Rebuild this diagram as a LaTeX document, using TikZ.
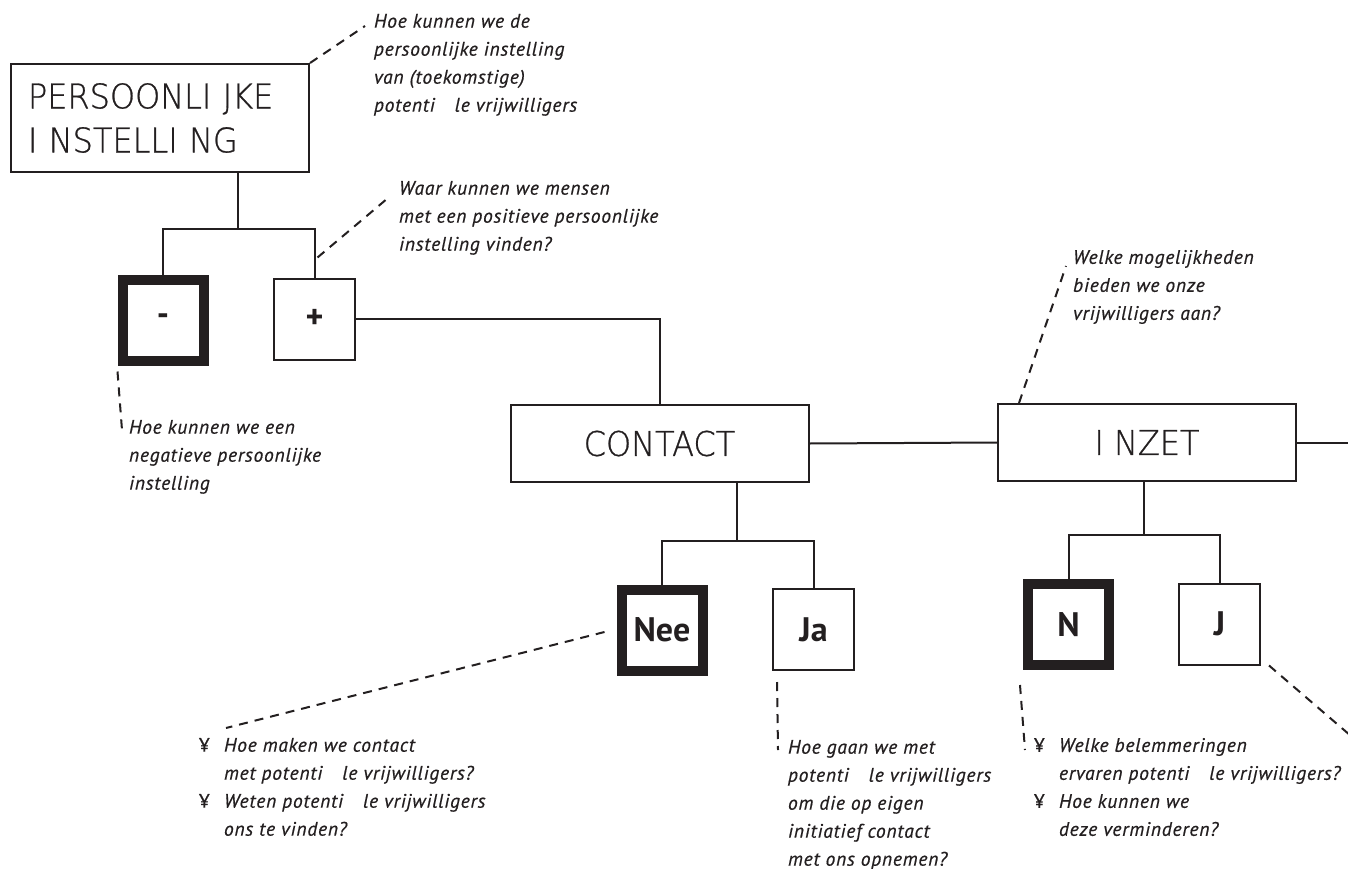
\documentclass[tikz,border=0pt]{standalone}
\usepackage{fontspec}
\setmainfont{PT Sans}
\newfontfamily\notefont[LetterSpace=4,FakeBold=0.6]{PT Sans}
\newfontfamily\titlefont[FakeStretch=0.94,FakeBold=0.8]{DejaVu Sans ExtraLight}
\usetikzlibrary{calc}
\definecolor{ink}{HTML}{231F20}
\newcommand{\gapje}{\hspace*{20pt}}
\newcommand{\bul}{\makebox[25pt][l]{\upshape ¥}}
\newcommand{\ind}{\hspace*{25pt}}

\begin{document}
\begin{tikzpicture}[x=1pt, y=-1pt, line width=2pt, color=ink]
    \tikzstyle{topic}=[rectangle, draw, line width=2pt, inner sep=0pt,
                       minimum width=298pt, minimum height=77pt,
                       font=\titlefont\fontsize{34}{44}\selectfont]
    \tikzstyle{answer}=[rectangle, draw, line width=2pt, inner sep=0pt,
                        minimum size=81pt,
                        font=\bfseries\fontsize{34}{34}\selectfont]
    \tikzstyle{blocked}=[answer, line width=10pt]
    \tikzstyle{note}=[anchor=north west, inner sep=0pt, align=left,
                      font=\notefont\itshape\fontsize{19.5}{28}\selectfont]
    \tikzstyle{hint}=[dash pattern=on 9pt off 7pt, line width=2pt]

    \useasboundingbox (0,0) rectangle (1348,869);

    % boxes
    \node[topic, minimum height=108pt, text width=264pt, align=left] (pers) at (160,118) {PERSOONLI JKE\\I NSTELLI NG};
    \node[blocked] (min)  at (163,320)   {-};
    \node[answer]  (plus) at (314.5,319) {+};
    \node[topic] (contact) at (659.5,443.5) {CONTACT};
    \node[topic] (inzet)   at (1147,442.5)  {I NZET};
    \node[blocked] (nee)    at (662,630)     {Nee};
    \node[answer]  (ja)     at (813.5,629.5) {Ja};
    \node[blocked] (inzetN) at (1068.5,624.5) {N};
    \node[answer]  (inzetJ) at (1219.5,624)   {J};

    % questions
    \node[note] (qpers)  at (373,13)   {Hoe kunnen we de\\persoonlijke instelling\\van (toekomstige)\\potenti\gapje le vrijwilligers};
    \node[note] (qplus)  at (398,180)  {Waar kunnen we mensen\\met een positieve persoonlijke\\instelling vinden?};
    \node[note] (qmin)   at (128,419)  {Hoe kunnen we een\\negatieve persoonlijke\\instelling};
    \node[note] (qinzet) at (1072,249) {Welke mogelijkheden\\bieden we onze\\vrijwilligers aan?};
    \node[note] (qnee)   at (198,737)  {\bul Hoe maken we contact\\\ind met potenti\gapje le vrijwilligers?\\\bul Weten potenti\gapje le vrijwilligers\\\ind ons te vinden?};
    \node[note] (qja)    at (787,739)  {Hoe gaan we met\\potenti\gapje le vrijwilligers\\om die op eigen\\initiatief contact\\met ons opnemen?};
    \node[note] (qn)     at (1033,737) {\bul Welke belemmeringen\\\ind ervaren potenti\gapje le vrijwilligers?\\\bul Hoe kunnen we\\\ind deze verminderen?};

    % tree
    \coordinate (fork1) at (238,229);
    \coordinate (fork2) at (737,541);
    \coordinate (fork3) at (1144,535);
    \coordinate (rim)   at (1348,442.5);
    \draw (fork1 |- pers.south) -- (fork1);
    \draw (min.north) |- (fork1) -| (plus.north);
    \draw (plus.east) -| (contact.north);
    \draw (contact.east) -- (inzet.west);
    \draw (inzet.east) -- (rim);
    \draw (fork2 |- contact.south) -- (fork2);
    \draw (nee.north) |- (fork2) -| (ja.north);
    \draw (fork3 |- inzet.south) -- (fork3);
    \draw (inzetN.north) |- (fork3) -| (inzetJ.north);

    % dashed leaders
    \coordinate (e1) at (365,26);
    \coordinate (e2) at (388,198);
    \coordinate (e3) at (122,430);
    \coordinate (e4) at (1066,266);
    \coordinate (e5) at (226,728);
    \coordinate (e6) at (778,750);
    \coordinate (e7) at (1025,750);
    \coordinate (e8) at (1358,742);
    \draw[hint] (pers.north east) -- (e1);
    \draw[hint] ([xshift=3pt,yshift=20pt]plus.north) -- (e2);
    \draw[hint] ([yshift=-6pt]min.south west) -- (e3);
    \draw[hint] ([xshift=22pt]inzet.north west) -- (e4);
    \draw[hint] ([xshift=-12pt,yshift=-2pt]nee.west) -- (e5);
    \draw[hint] ([xshift=5pt,yshift=-11pt]ja.south west) -- (e6);
    \draw[hint] ([xshift=-3pt,yshift=-15pt]inzetN.south west) -- (e7);
    \draw[hint] ([xshift=8pt]inzetJ.south east) -- (e8);
\end{tikzpicture}
\end{document}
